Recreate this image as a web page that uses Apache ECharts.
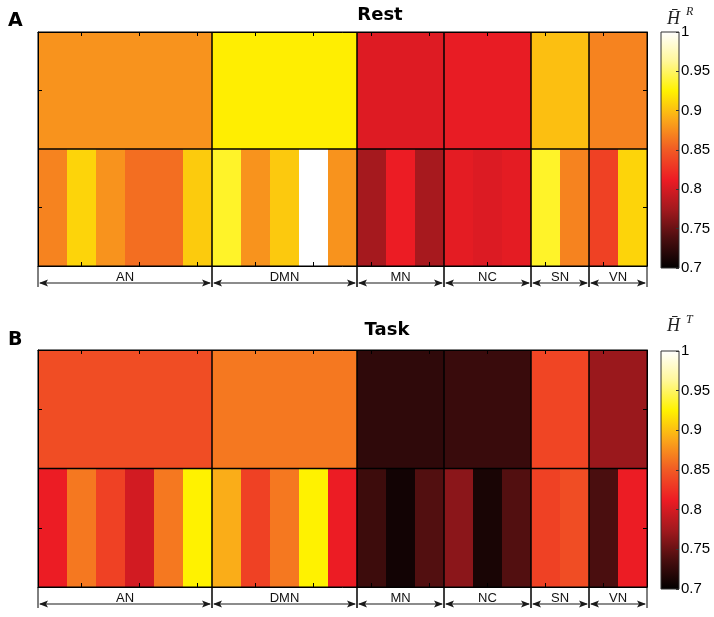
<!DOCTYPE html>
<html><head><meta charset="utf-8">
<script src="https://cdn.jsdelivr.net/npm/echarts@6/dist/echarts.min.js"></script>
<style>html,body{margin:0;padding:0;background:#fff}#c{width:714px;height:617px}</style>
</head><body><div id="c"></div>
<script>
// ---------- data ----------
const networks = ['AN', 'DMN', 'MN', 'NC', 'SN', 'VN'];
const networkSizes = [6, 5, 3, 3, 2, 2];
const restNetwork = [0.878, 0.923, 0.805, 0.81, 0.9, 0.87];
const restRegions = [0.87, 0.91, 0.878, 0.86, 0.86, 0.906,
                     0.935, 0.878, 0.905, 1.0, 0.878,
                     0.776, 0.812, 0.777,
                     0.808, 0.804, 0.808,
                     0.935, 0.87,
                     0.835, 0.91];
const taskNetwork = [0.842, 0.865, 0.724, 0.729, 0.837, 0.771];
const taskRegions = [0.812, 0.865, 0.835, 0.799, 0.865, 0.925,
                     0.891, 0.835, 0.865, 0.925, 0.812,
                     0.731, 0.709, 0.741,
                     0.765, 0.7125, 0.741,
                     0.835, 0.842,
                     0.7375, 0.812];
const colorbarMin = 0.7, colorbarMax = 1, colorbarStep = 0.05;
const hotColors = ['#000000', '#4a0e0f', '#a3191e', '#ed1c24', '#f15a24', '#faa61a', '#fff200', '#fff799', '#ffffff'];
const rowNames = ['network', 'region'];

// ---------- derived ----------
const regionNames = [];
const starts = [];
let k = 0;
networks.forEach((n, i) => {
  starts.push(k);
  for (let j = 0; j < networkSizes[i]; j++) regionNames.push(n + ' ' + (j + 1));
  k += networkSizes[i];
});
function cellData(net, reg) {
  const d = [];
  net.forEach((v, i) => d.push([starts[i], starts[i] + networkSizes[i] - 1, 0, v]));
  reg.forEach((v, i) => d.push([i, i, 1, v]));
  return d;
}
const netSpans = networks.map((n, i) => [starts[i], starts[i] + networkSizes[i] - 1, 0]);

const panels = [
  { label: 'A', title: 'Rest', titleX: 380, titleY: 15.5, sup: 'R', net: restNetwork, reg: restRegions,
    grid: { left: 38, top: 32, width: 609, height: 234 },
    cbar: { left: 661, top: 32, width: 18, height: 236 }, labelY: 21.5, hY: 19, supY: 12 },
  { label: 'B', title: 'Task', titleX: 387, titleY: 330, sup: 'T', net: taskNetwork, reg: taskRegions,
    grid: { left: 38, top: 350, width: 609, height: 237 },
    cbar: { left: 661, top: 351, width: 18, height: 238 }, labelY: 340, hY: 326, supY: 320 }
];

const grids = [], xAxes = [], yAxes = [], series = [], visualMaps = [], graphics = [];
const gradStops = hotColors.map((c, i) => ({ offset: i / (hotColors.length - 1), color: c }));

panels.forEach((p, pi) => {
  const gH = grids.length;
  grids.push(Object.assign({ containLabel: false }, p.grid));
  const gC = grids.length;
  grids.push(Object.assign({ containLabel: false }, p.cbar));

  const xH = xAxes.length;
  ['bottom', 'top'].forEach(pos => xAxes.push({
    type: 'category', gridIndex: gH, data: regionNames, position: pos, boundaryGap: true, z: 10,
    axisLine: { show: true, onZero: false, lineStyle: { color: '#000', width: 1 } },
    axisTick: { show: true, inside: true, length: 4, alignWithLabel: true, interval: (i) => i % 2 === 1, lineStyle: { color: '#000' } },
    axisLabel: { show: false }, splitLine: { show: false }
  }));
  const yH = yAxes.length;
  ['left', 'right'].forEach(pos => yAxes.push({
    type: 'category', gridIndex: gH, data: rowNames, inverse: true, position: pos, z: 10,
    axisLine: { show: true, onZero: false, lineStyle: { color: '#000', width: 1 } },
    axisTick: { show: true, inside: true, length: 4, alignWithLabel: true, lineStyle: { color: '#000' } },
    axisLabel: { show: false }, splitLine: { show: false }
  }));
  const xC = xAxes.length;
  xAxes.push({ type: 'category', gridIndex: gC, data: [''], show: false, boundaryGap: true });
  const yC = yAxes.length;
  yAxes.push({
    type: 'value', gridIndex: gC, min: colorbarMin, max: colorbarMax, interval: colorbarStep, position: 'right', z: 10,
    axisLine: { show: false },
    axisTick: { show: true, inside: true, length: 3, lineStyle: { color: '#333' } },
    axisLabel: { show: true, margin: 2, fontSize: 15, color: '#000', fontFamily: 'Liberation Sans' },
    splitLine: { show: false }
  });

  // cells
  const sCells = series.length;
  series.push({
    type: 'custom', name: p.title, xAxisIndex: xH, yAxisIndex: yH,
    encode: { x: [0, 1], y: 2 },
    data: cellData(p.net, p.reg),
    renderItem: (params, api) => {
      const s = api.coord([api.value(0), api.value(2)]);
      const e = api.coord([api.value(1), api.value(2)]);
      const sz = api.size([1, 1]);
      return { type: 'rect', shape: { x: s[0] - sz[0] / 2, y: s[1] - sz[1] / 2, width: e[0] - s[0] + sz[0], height: sz[1] },
               style: { fill: api.visual('color'), stroke: null } };
    }
  });
  visualMaps.push({ type: 'continuous', show: false, seriesIndex: sCells, dimension: 3,
                    min: colorbarMin, max: colorbarMax, inRange: { color: hotColors } });

  // network frames + brackets
  series.push({
    type: 'custom', xAxisIndex: xH, yAxisIndex: yH, z: 5,
    encode: { x: [0, 1], y: 2 },
    data: netSpans,
    renderItem: (params, api) => {
      const s0 = api.coord([api.value(0), 0]);
      const e0 = api.coord([api.value(1), 0]);
      const s1 = api.coord([api.value(0), 1]);
      const sz = api.size([1, 1]);
      const x0 = s0[0] - sz[0] / 2, x1 = e0[0] + sz[0] / 2;
      const yT = s0[1] - sz[1] / 2, yM = s0[1] + sz[1] / 2, yB = s1[1] + sz[1] / 2;
      const ya = yB + 17;
      const ink = '#1a1a1a';
      return { type: 'group', children: [
        { type: 'rect', shape: { x: x0, y: yT, width: x1 - x0, height: yB - yT }, style: { fill: null, stroke: '#000', lineWidth: 1 } },
        { type: 'line', shape: { x1: x0, y1: yM, x2: x1, y2: yM }, style: { stroke: '#000', lineWidth: 1.5 } },
        { type: 'line', shape: { x1: x0, y1: yB, x2: x0, y2: yB + 21 }, style: { stroke: '#000', lineWidth: 1 } },
        { type: 'line', shape: { x1: x1, y1: yB, x2: x1, y2: yB + 21 }, style: { stroke: '#000', lineWidth: 1 } },
        { type: 'line', shape: { x1: x0 + 2, y1: ya, x2: x1 - 2, y2: ya }, style: { stroke: ink, lineWidth: 1.2 } },
        { type: 'polygon', shape: { points: [[x0 + 1, ya], [x0 + 10, ya - 3.5], [x0 + 8, ya], [x0 + 10, ya + 3.5]] }, style: { fill: ink } },
        { type: 'polygon', shape: { points: [[x1 - 1, ya], [x1 - 10, ya - 3.5], [x1 - 8, ya], [x1 - 10, ya + 3.5]] }, style: { fill: ink } },
        { type: 'text', style: { x: (x0 + x1) / 2, y: yB + 11, text: networks[params.dataIndex], textAlign: 'center', textVerticalAlign: 'middle',
          font: '13px "Liberation Sans", Arial, sans-serif', fill: '#111' } }
      ] };
    }
  });

  // colorbar
  series.push({
    type: 'custom', xAxisIndex: xC, yAxisIndex: yC,
    encode: { x: 0, y: [1, 2] },
    data: [[0, colorbarMin, colorbarMax]],
    renderItem: (params, api) => {
      const top = api.coord([0, api.value(2)]);
      const bot = api.coord([0, api.value(1)]);
      const w = api.size([1, 0])[0];
      return { type: 'rect', shape: { x: top[0] - w / 2, y: top[1], width: w, height: bot[1] - top[1] },
               style: { fill: new echarts.graphic.LinearGradient(0, 1, 0, 0, gradStops), stroke: '#333', lineWidth: 1 } };
    }
  });

  graphics.push(
    { type: 'text', x: 8, y: p.labelY, style: { text: p.label, font: 'bold 19px "DejaVu Sans", sans-serif', fill: '#000', textVerticalAlign: 'middle' } },
    { type: 'text', x: p.titleX, y: p.titleY, style: { text: p.title, font: 'bold 18px "DejaVu Sans", sans-serif', fill: '#000', textAlign: 'center', textVerticalAlign: 'middle' } },
    { type: 'text', x: 667, y: p.hY, style: { text: 'H\u0304', font: 'italic 18px "Liberation Serif", "DejaVu Serif", serif', fill: '#222', textVerticalAlign: 'middle' } },
    { type: 'text', x: 686, y: p.supY, style: { text: p.sup, font: 'italic 12px "Liberation Serif", "DejaVu Serif", serif', fill: '#222', textVerticalAlign: 'middle' } }
  );
});

const chart = echarts.init(document.getElementById('c'));
chart.setOption({
  backgroundColor: '#fff',
  animation: false,
  grid: grids, xAxis: xAxes, yAxis: yAxes,
  visualMap: visualMaps,
  series: series,
  graphic: graphics
});
</script>
</body></html>
